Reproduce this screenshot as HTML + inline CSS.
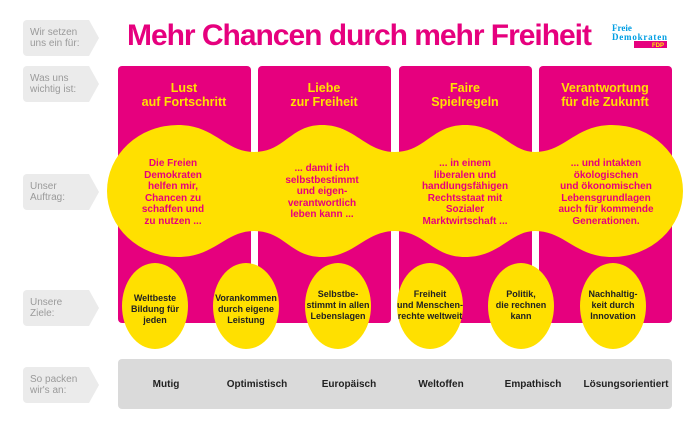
<!DOCTYPE html>
<html><head><meta charset="utf-8"><style>
body{margin:0;background:#fff;}
svg{display:block;font-family:"Liberation Sans",sans-serif;}
</style></head><body>
<svg width="697" height="432" viewBox="0 0 697 432">
<g fill="#ebebeb">
<path d="M27 20h62l10 18-10 18h-62a4 4 0 0 1-4-4v-28a4 4 0 0 1 4-4z"/>
<path d="M27 66h62l10 18-10 18h-62a4 4 0 0 1-4-4v-28a4 4 0 0 1 4-4z"/>
<path d="M27 174h62l10 18-10 18h-62a4 4 0 0 1-4-4v-28a4 4 0 0 1 4-4z"/>
<path d="M27 290h62l10 18-10 18h-62a4 4 0 0 1-4-4v-28a4 4 0 0 1 4-4z"/>
<path d="M27 367h62l10 18-10 18h-62a4 4 0 0 1-4-4v-28a4 4 0 0 1 4-4z"/>
</g>
<g fill="#9a9a9a" font-size="10">
<text x="30" y="35">Wir setzen</text><text x="30" y="46">uns ein für:</text>
<text x="30" y="81">Was uns</text><text x="30" y="92">wichtig ist:</text>
<text x="30" y="189">Unser</text><text x="30" y="200">Auftrag:</text>
<text x="30" y="305">Unsere</text><text x="30" y="316">Ziele:</text>
<text x="30" y="382">So packen</text><text x="30" y="393">wir's an:</text>
</g>
<text x="127" y="45" fill="#e6007e" font-size="30" font-weight="bold" textLength="465">Mehr Chancen durch mehr Freiheit</text>
<text x="612" y="31" fill="#009ee3" font-size="9" font-weight="bold" font-family="Liberation Serif,serif">Freie</text>
<text x="612" y="40" fill="#009ee3" font-size="9" font-weight="bold" font-family="Liberation Serif,serif" textLength="55">Demokraten</text>
<rect x="634" y="41" width="33" height="7" fill="#e6007e"/>
<text x="664" y="47" fill="#ffed00" font-size="6" text-anchor="end" font-weight="bold">FDP</text>
<g fill="#e6007e">
<rect x="118" y="66" width="133" height="257" rx="4"/>
<rect x="258" y="66" width="133" height="257" rx="4"/>
<rect x="399" y="66" width="133" height="257" rx="4"/>
<rect x="539" y="66" width="133" height="257" rx="4"/>
</g>
<g fill="#ffe000" font-size="12.5" font-weight="bold" text-anchor="middle">
<text x="184" y="92">Lust</text><text x="184" y="106">auf Fortschritt</text>
<text x="324" y="92">Liebe</text><text x="324" y="106">zur Freiheit</text>
<text x="465" y="92">Faire</text><text x="465" y="106">Spielregeln</text>
<text x="605" y="92">Verantwortung</text><text x="605" y="106">für die Zukunft</text>
</g>
<g fill="#ffe000">
<path d="M178,125 C215,125 225,152 254,152 C285,152 290,125 322,125 C355,125 365,152 395,152 C425,152 432,125 465,125 C500,125 510,152 535,152 C565,152 575,125 612,125 A71,66 0 0 1 612,257 C575,257 565,231 535,231 C510,231 500,257 465,257 C432,257 425,231 395,231 C365,231 355,257 322,257 C290,257 285,231 254,231 C225,231 215,257 178,257 A71,66 0 0 1 178,125 Z"/>
<ellipse cx="155" cy="306" rx="33" ry="43"/>
<ellipse cx="246" cy="306" rx="33" ry="43"/>
<ellipse cx="338" cy="306" rx="33" ry="43"/>
<ellipse cx="430" cy="306" rx="33" ry="43"/>
<ellipse cx="521" cy="306" rx="33" ry="43"/>
<ellipse cx="613" cy="306" rx="33" ry="43"/>
</g>
<g fill="#e6007e" font-size="10" font-weight="bold" text-anchor="middle">
<text x="173" y="166">Die Freien</text><text x="173" y="178">Demokraten</text><text x="173" y="189">helfen mir,</text><text x="173" y="201">Chancen zu</text><text x="173" y="212">schaffen und</text><text x="173" y="224">zu nutzen ...</text>
<text x="322" y="171">... damit ich</text><text x="322" y="183">selbstbestimmt</text><text x="322" y="194">und eigen-</text><text x="322" y="206">verantwortlich</text><text x="322" y="217">leben kann ...</text>
<text x="465" y="166">... in einem</text><text x="465" y="178">liberalen und</text><text x="465" y="189">handlungsfähigen</text><text x="465" y="201">Rechtsstaat mit</text><text x="465" y="212">Sozialer</text><text x="465" y="224">Marktwirtschaft ...</text>
<text x="606" y="166">... und intakten</text><text x="606" y="178">ökologischen</text><text x="606" y="189">und ökonomischen</text><text x="606" y="201">Lebensgrundlagen</text><text x="606" y="212">auch für kommende</text><text x="606" y="224">Generationen.</text>
</g>
<g fill="#222" font-size="9" font-weight="bold" text-anchor="middle">
<text x="155" y="301">Weltbeste</text><text x="155" y="312">Bildung für</text><text x="155" y="323">jeden</text>
<text x="246" y="301">Vorankommen</text><text x="246" y="312">durch eigene</text><text x="246" y="323">Leistung</text>
<text x="338" y="297">Selbstbe-</text><text x="338" y="308">stimmt in allen</text><text x="338" y="319">Lebenslagen</text>
<text x="430" y="297">Freiheit</text><text x="430" y="308">und Menschen-</text><text x="430" y="319">rechte weltweit</text>
<text x="521" y="297">Politik,</text><text x="521" y="308">die rechnen</text><text x="521" y="319">kann</text>
<text x="613" y="297">Nachhaltig-</text><text x="613" y="308">keit durch</text><text x="613" y="319">Innovation</text>
</g>
<rect x="118" y="359" width="554" height="50" rx="4" fill="#dadada"/>
<g fill="#222" font-size="10" font-weight="bold" text-anchor="middle">
<text x="166" y="387">Mutig</text><text x="257" y="387">Optimistisch</text><text x="349" y="387">Europäisch</text><text x="441" y="387">Weltoffen</text><text x="533" y="387">Empathisch</text><text x="626" y="387">Lösungsorientiert</text>
</g>
</svg>
</body></html>
